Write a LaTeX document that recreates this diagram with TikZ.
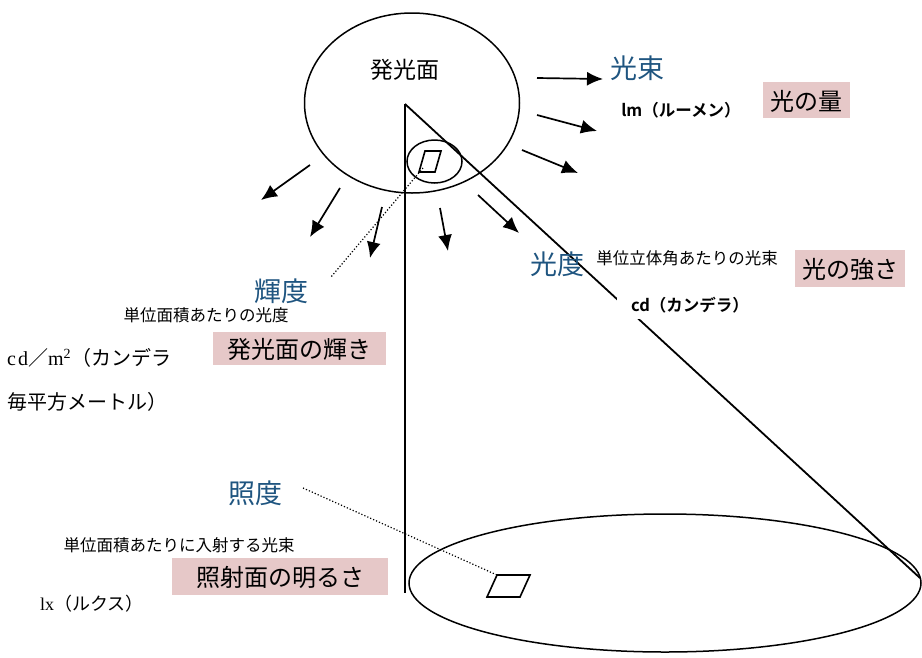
\documentclass[tikz,border=0pt]{standalone}
\usepackage{fontspec}
\setmainfont{Liberation Serif}
\newfontfamily\jp{Noto Sans CJK JP}
\newfontfamily\jpb{Noto Sans CJK JP Bold}
\usetikzlibrary{arrows.meta}
\definecolor{pinkbg}{RGB}{230,200,200}
\definecolor{termblue}{RGB}{31,85,128}
\tikzset{
  ray/.style={line width=1.7pt,-{Latex[length=16pt,width=14pt]}},
  outline/.style={line width=1.5pt},
  term/.style={text=termblue,font=\jp\fontsize{27}{30}\selectfont,inner sep=0pt},
  desc/.style={font=\jp\fontsize{16.5}{19}\selectfont,inner sep=0pt},
  unitb/.style={font=\jpb\fontsize{16.5}{19}\selectfont,fill=white,inner sep=3pt},
  unitser/.style={font=\fontsize{20}{24}\selectfont,inner sep=0pt,anchor=west},
  pinkbox/.style={fill=pinkbg,font=\jp\fontsize{24}{26}\selectfont,inner sep=0pt,text depth=0pt},
  dotline/.style={dotted,line width=1.2pt}
}
\begin{document}
\begin{tikzpicture}[x=1pt,y=-1pt]
\useasboundingbox (0,0) rectangle (922,657);
% shapes
\draw[outline] (412,103) ellipse [x radius=107.5pt, y radius=90pt];
\draw[outline] (665,583) ellipse [x radius=256pt, y radius=69pt];
\coordinate (apex) at (405,104);
\coordinate (foot) at (405,593);
\coordinate (rim) at (920,578);
\draw[line width=1.8pt] (apex) -- (foot);
\draw[line width=1.8pt] (apex) -- (rim);
\draw[outline] (434.5,161.5) ellipse [x radius=27.5pt, y radius=21.5pt];
\draw[line width=1.6pt] (419,172) coordinate (sp1) -- (435,172) -- (441,151) -- (425,151) -- cycle;
\draw[line width=1.6pt] (487,597) coordinate (bp1) -- (520,597) -- (530,575) -- (497,575) coordinate (bp4) -- cycle;

% labels
\node[font=\jp\fontsize{23}{25}\selectfont,inner sep=0pt] (hakko) at (405,70) {発光面};
\node[term] (kousoku) at (637,68) {光束};
\node[unitb] (lm) at (681,110) {lm（ルーメン）};
\node[pinkbox,minimum width=87pt,minimum height=36pt] (ryou) at (806.5,100) {光の量};

\node[term] (koudo) at (557,264) {光度};
\node[desc] (koudodesc) at (687,258) {単位立体角あたりの光束};
\node[pinkbox,minimum width=110pt,minimum height=37pt] (tsuyosa) at (850,268.5) {光の強さ};
\node[unitb,inner xsep=14pt,inner ysep=6pt] (cd) at (690,305) {cd（カンデラ）};

\node[term] (kido) at (281,291) {輝度};
\node[desc] (kidodesc) at (206,315) {単位面積あたりの光度};
\node[pinkbox,minimum width=173pt,minimum height=33pt] (kagayaki) at (299.5,348.5) {発光面の輝き};
\node[unitser] (cdm) at (7,358) {c\kern2pt d{\jp／}m\textsuperscript{2}{\jp（カンデラ}};
\node[unitser] (cdm2) at (7,402) {\jp 毎平方メートル）};

\node[term] (shodo) at (255,493) {照度};
\node[desc] (shododesc) at (179,545) {単位面積あたりに入射する光束};
\node[pinkbox,minimum width=216pt,minimum height=37pt] (akarusa) at (280,576.5) {照射面の明るさ};
\node[unitser,font=\fontsize{18}{22}\selectfont] (lx) at (40,604) {lx\jp（ルクス）};

% dotted leaders
\coordinate (kidoend) at (331,277);
\coordinate (shodoend) at (303,488);
\draw[dotline] (423,168) -- (kidoend);
\draw[dotline] (shodoend) -- (bp4);

% rays
\coordinate (r1a) at (537,78);  \coordinate (r1b) at (603,79);
\coordinate (r2a) at (537,115); \coordinate (r2b) at (597,131);
\coordinate (r3a) at (522,150); \coordinate (r3b) at (578,173);
\coordinate (l1a) at (310,165); \coordinate (l1b) at (261,200);
\coordinate (l2a) at (340,188); \coordinate (l2b) at (310,237);
\coordinate (l3a) at (382,207); \coordinate (l3b) at (370,258);
\coordinate (l4a) at (440,208); \coordinate (l4b) at (448,251);
\coordinate (l5a) at (478,195); \coordinate (l5b) at (519,233);
\foreach \s in {r1,r2,r3,l1,l2,l3,l4,l5}
  \draw[ray] (\s a) -- (\s b);
\end{tikzpicture}
\end{document}
